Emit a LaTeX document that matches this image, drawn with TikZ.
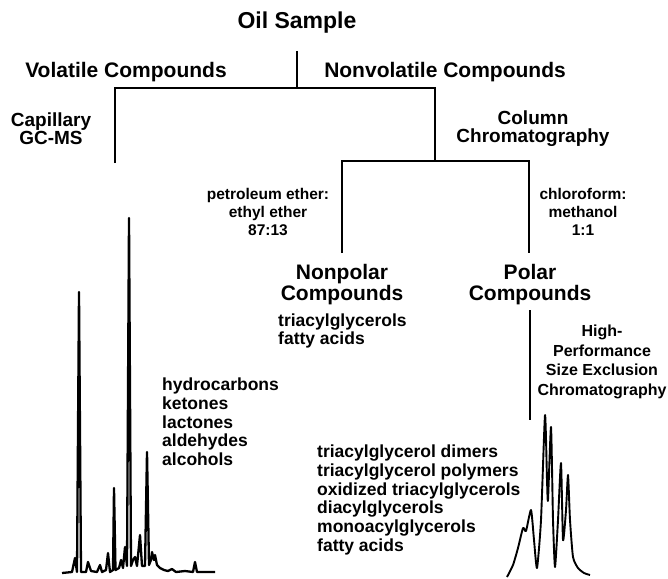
\documentclass[tikz,border=0pt]{standalone}
\usepackage{fontspec}
\setmainfont{Liberation Sans}

\begin{document}
\begin{tikzpicture}[x=1pt,y=-1pt,
	titre/.style={font=\fontsize{21}{21}\selectfont\bfseries,align=center,inner sep=0pt},
	methode/.style={font=\fontsize{19}{18}\selectfont\bfseries,align=center,inner sep=0pt},
	solvant/.style={font=\fontsize{15.5}{18}\selectfont\bfseries,align=center,inner sep=0pt},
	liste/.style={font=\fontsize{17.5}{18.7}\selectfont\bfseries,align=left,anchor=west,inner sep=0pt},
	trait/.style={line width=1.8pt},
	chromato/.style={line width=2.3pt,line join=round}]
	\useasboundingbox (0,0) rectangle (668,578); % le cadre
	
	\node[titre,font=\fontsize{23}{23}\selectfont\bfseries] (oil) at (297,23) {Oil Sample};
	\node[titre] (vol) at (126,72) {Volatile Compounds};
	\node[titre] (nonvol) at (445,72) {Nonvolatile Compounds};
	\node[methode] (gcms) at (51,129) {Capillary\\GC-MS};
	\node[methode] (colonne) at (533,129) {Column\\Chromatography};
	\node[solvant] (petrole) at (268,212) {petroleum ether:\\ethyl ether\\87:13};
	\node[solvant] (chloro) at (583,212) {chloroform:\\methanol\\1:1};
	\node[titre] (nonpol) at (342,285) {Nonpolar\\Compounds};
	\node[titre] (pol) at (530,285) {Polar\\Compounds};
	\node[liste] (lnonpol) at (278,331) {triacylglycerols\\fatty acids};
	\node[methode,font=\fontsize{16}{19.5}\selectfont\bfseries] (hpsec) at (602,362) {High-\\Performance\\Size Exclusion\\Chromatography};
	\node[liste] (lvol) at (162,422) {hydrocarbons\\ketones\\lactones\\aldehydes\\alcohols};
	\node[liste] (lpol) at (317,500) {triacylglycerol dimers\\triacylglycerol polymers\\oxidized triacylglycerols\\diacylglycerols\\monoacylglycerols\\fatty acids};
	
	% les branches
	\coordinate (o1) at (297,51); \coordinate (o2) at (297,88);
	\coordinate (v1) at (115,88); \coordinate (v2) at (115,163);
	\coordinate (n1) at (435,88); \coordinate (n2) at (435,161);
	\coordinate (p1) at (342,161); \coordinate (p2) at (342,253);
	\coordinate (c1) at (529,161); \coordinate (c2) at (529,253);
	\coordinate (h1) at (530,310); \coordinate (h2) at (530,420);
	\draw[trait] (o1) -- (o2);
	\draw[trait] (v2) -- (v1) -- (n1) -- (n2);
	\draw[trait] (p2) -- (p1) -- (c1) -- (c2);
	\draw[trait] (h1) -- (h2);
	
	% chromatogramme GC-MS
	\draw[chromato] (62,573) -- (72,572) -- (75,558) -- (77,572) -- (79,292) -- (81,572) -- (86,572) -- (88,562) -- (91,571) -- (97,572) -- (100,565) -- (102,572) -- (106,570) -- (108,553) -- (110,572) -- (113,570) -- (114,488) -- (115.5,570) -- (119,568) -- (121,560) -- (123,568) -- (125,547) -- (127,566) -- (129,218) -- (131,566) -- (133,560) -- (135,557) -- (137,566) -- (140,535) -- (142,566) -- (145,566) -- (147,452) -- (149,565) -- (151,560) -- (152,552) -- (154,560) -- (155,555) -- (157,565) -- (160,568) -- (164,570) -- (168,571) -- (172,569) -- (176,572) -- (185,571) -- (193,572) -- (195,562) -- (197,572) -- (215,572);
	
	% chromatogramme HPSEC
	\draw[chromato,line width=1.9pt] plot[smooth,tension=0.35] coordinates {(507,577) (513,565) (518,548) (523,528) (526,531) (531,510) (534,540) (537,568) (541,520) (545,415) (547,480) (548,500) (551,427) (553,520) (555,567) (558,520) (561,463) (563,540) (566,510) (568,475) (570,520) (573,557) (578,568) (584,573) (590,575)};
\end{tikzpicture}
\end{document}
